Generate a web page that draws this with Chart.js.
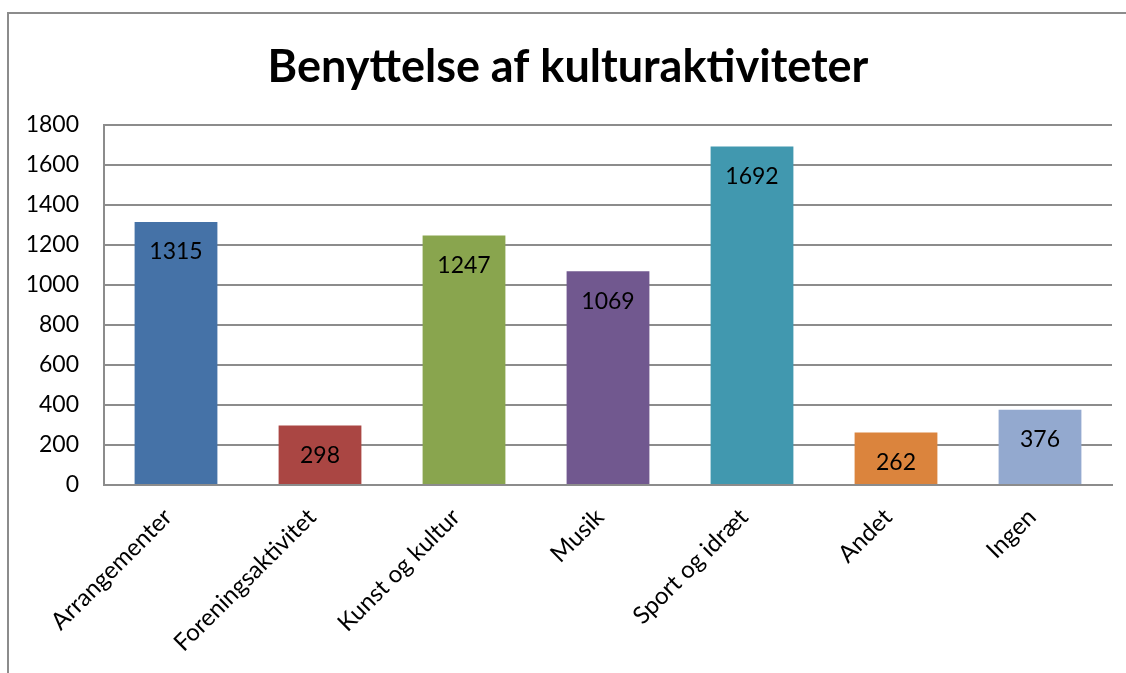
<!DOCTYPE html>
<html>
<head>
<meta charset="utf-8">
<script src="https://cdn.jsdelivr.net/npm/chart.js@4"></script>
<style>
  html, body { margin: 0; padding: 0; background: #fff; }
  #wrap { position: relative; width: 1126px; height: 673px; }
  #frame { position: absolute; left: 7px; top: 12px; right: -4px; bottom: -4px; border: 2px solid #8c8c8c; }
  canvas { position: absolute; left: 0; top: 0; }
</style>
</head>
<body>
<div id="wrap">
  <div id="frame"></div>
  <canvas id="kulturChart" width="1126" height="673"></canvas>
</div>
<script>
// Benyttelse af kulturaktiviteter
const categories = ['Arrangementer', 'Foreningsaktivitet', 'Kunst og kultur', 'Musik', 'Sport og idræt', 'Andet', 'Ingen'];
const counts = [1315, 298, 1247, 1069, 1692, 262, 376];
const barColors = ['#4572A7', '#AA4643', '#89A54E', '#71588F', '#4198AF', '#DB843D', '#93A9CF'];
const yTicks = [0, 200, 400, 600, 800, 1000, 1200, 1400, 1600, 1800];

const fontFamily = 'Lato, "Open Sans", sans-serif';

// value labels inside the top of each bar
const insideEndLabels = {
  id: 'insideEndLabels',
  afterDatasetsDraw(chart) {
    const ctx = chart.ctx;
    const meta = chart.getDatasetMeta(0);
    ctx.save();
    ctx.font = '23px ' + fontFamily;
    ctx.fillStyle = '#000';
    ctx.textAlign = 'center';
    ctx.textBaseline = 'middle';
    meta.data.forEach((bar, i) => {
      ctx.fillText(String(counts[i]), bar.x, bar.y + 30);
    });
    ctx.restore();
  }
};

const ctx = document.getElementById('kulturChart').getContext('2d');
new Chart(ctx, {
  type: 'bar',
  data: {
    labels: categories,
    datasets: [{
      label: 'Antal',
      data: counts,
      backgroundColor: barColors,
      borderWidth: 0,
      barPercentage: 0.575,
      categoryPercentage: 1
    }]
  },
  options: {
    responsive: false,
    animation: false,
    layout: { padding: { left: 24, right: 14, top: 20, bottom: 0 } },
    plugins: {
      legend: { display: false },
      tooltip: { enabled: false },
      title: {
        display: true,
        text: 'Benyttelse af kulturaktiviteter',
        color: '#000',
        font: { family: fontFamily, size: 45, weight: 'bold', lineHeight: 1.2 },
        padding: { top: 20, bottom: 31 }
      }
    },
    scales: {
      x: {
        grid: { display: false, drawTicks: false },
        border: { color: '#8c8c8c', width: 2 },
        ticks: {
          color: '#000',
          font: { family: fontFamily, size: 24 },
          maxRotation: 45,
          minRotation: 45,
          padding: 18,
          labelOffset: -8,
          autoSkip: false
        },
        afterFit(scale) { scale.height = 188; }
      },
      y: {
        min: 0,
        max: 1800,
        afterBuildTicks(scale) { scale.ticks = yTicks.map(v => ({ value: v })); },
        grid: { color: '#8c8c8c', lineWidth: 2, drawTicks: false },
        border: { color: '#8c8c8c', width: 2 },
        ticks: {
          color: '#000',
          font: { family: fontFamily, size: 23 },
          padding: 25,
          callback: value => String(value)
        },
        afterFit(scale) { scale.width = 80; }
      }
    }
  },
  plugins: [insideEndLabels]
});
</script>
</body>
</html>
